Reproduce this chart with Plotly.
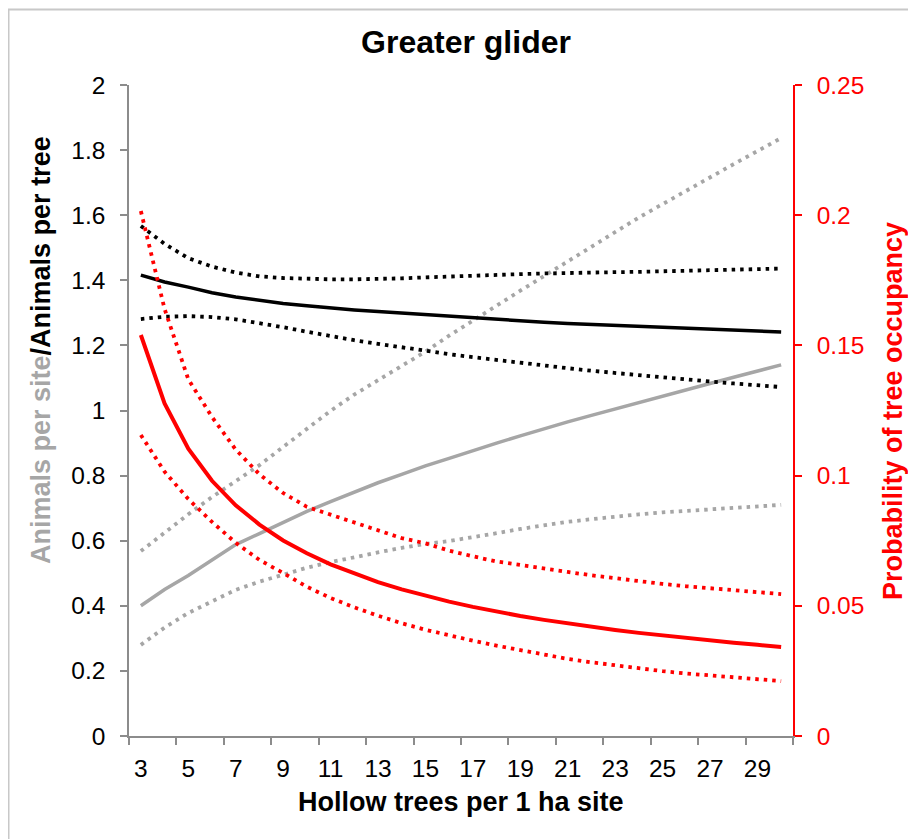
import plotly.graph_objects as go

hollow_trees = [3, 4, 5, 6, 7, 8, 9, 10, 11, 12, 13, 14, 15, 16,
                17, 18, 19, 20, 21, 22, 23, 24, 25, 26, 27, 28, 29, 30]

site_mean = [0.400, 0.450, 0.493, 0.540, 0.588, 0.622, 0.656, 0.690, 0.720, 0.750,
             0.778, 0.804, 0.830, 0.853, 0.877, 0.900, 0.922, 0.944, 0.965, 0.985,
             1.005, 1.025, 1.045, 1.064, 1.083, 1.102, 1.121, 1.140]
site_upper = [0.568, 0.625, 0.681, 0.734, 0.782, 0.832, 0.888, 0.945, 0.999, 1.049,
              1.094, 1.138, 1.181, 1.230, 1.277, 1.323, 1.368, 1.413, 1.458, 1.504,
              1.549, 1.593, 1.634, 1.676, 1.717, 1.757, 1.797, 1.837]
site_lower = [0.280, 0.333, 0.378, 0.415, 0.449, 0.474, 0.497, 0.517, 0.534, 0.550,
              0.564, 0.578, 0.590, 0.599, 0.610, 0.623, 0.636, 0.648, 0.658, 0.666,
              0.674, 0.681, 0.687, 0.692, 0.697, 0.702, 0.706, 0.710]

tree_mean = [1.416, 1.395, 1.379, 1.362, 1.349, 1.338, 1.329, 1.322, 1.315, 1.309,
             1.304, 1.299, 1.294, 1.289, 1.284, 1.280, 1.276, 1.271, 1.267, 1.264,
             1.261, 1.259, 1.256, 1.253, 1.250, 1.247, 1.244, 1.241]
tree_upper = [1.567, 1.512, 1.468, 1.442, 1.424, 1.412, 1.407, 1.404, 1.403, 1.403,
              1.404, 1.406, 1.409, 1.412, 1.414, 1.416, 1.419, 1.421, 1.423, 1.424,
              1.425, 1.426, 1.428, 1.430, 1.432, 1.433, 1.435, 1.436]
tree_lower = [1.281, 1.288, 1.290, 1.287, 1.280, 1.269, 1.256, 1.242, 1.228, 1.216,
              1.205, 1.194, 1.183, 1.173, 1.164, 1.155, 1.146, 1.138, 1.130, 1.122,
              1.115, 1.108, 1.101, 1.095, 1.089, 1.083, 1.077, 1.072]

occ_mean = [0.1540, 0.1277, 0.1103, 0.0980, 0.0886, 0.0812, 0.0751, 0.0702, 0.0659, 0.0623,
            0.0591, 0.0563, 0.0538, 0.0516, 0.0496, 0.0478, 0.0461, 0.0446, 0.0432, 0.0419,
            0.0407, 0.0396, 0.0386, 0.0376, 0.0367, 0.0358, 0.0350, 0.0342]
occ_upper = [0.2016, 0.1640, 0.1370, 0.1225, 0.1100, 0.1005, 0.0933, 0.0880, 0.0850, 0.0820,
             0.0790, 0.0760, 0.0740, 0.0712, 0.0690, 0.0670, 0.0657, 0.0645, 0.0630, 0.0617,
             0.0605, 0.0594, 0.0584, 0.0575, 0.0567, 0.0559, 0.0552, 0.0545]
occ_lower = [0.1156, 0.1015, 0.0910, 0.0822, 0.0742, 0.0676, 0.0626, 0.0573, 0.0530, 0.0494,
             0.0462, 0.0433, 0.0408, 0.0386, 0.0366, 0.0347, 0.0329, 0.0311, 0.0296, 0.0283,
             0.0271, 0.0259, 0.0249, 0.0240, 0.0232, 0.0224, 0.0217, 0.0211]

x_tick_labels = ["3", "5", "7", "9", "11", "13", "15", "17", "19", "21", "23", "25", "27", "29"]

GRAY = "#a6a6a6"
BLACK = "#000000"
RED = "#ff0000"
AXIS_GRAY = "#8c8c8c"
FONT = "Liberation Sans, Arial, sans-serif"
DOT = "3.5px,5px"
TICK_SIZE = 24.5

fig = go.Figure()

def add(y, color, dashed, axis, width):
    fig.add_trace(go.Scatter(
        x=hollow_trees, y=y, mode="lines", yaxis=axis,
        line=dict(color=color, width=width, dash=DOT if dashed else "solid"),
        showlegend=False, hoverinfo="skip"))

add(site_upper, GRAY, True, "y", 3.8)
add(site_lower, GRAY, True, "y", 3.8)
add(site_mean, GRAY, False, "y", 3.5)
add(tree_upper, BLACK, True, "y", 3.8)
add(tree_lower, BLACK, True, "y", 3.8)
add(tree_mean, BLACK, False, "y", 3.5)
add(occ_upper, RED, True, "y2", 3.8)
add(occ_lower, RED, True, "y2", 3.8)
add(occ_mean, RED, False, "y2", 4)

tick_positions = [int(t) for t in x_tick_labels]
boundaries = [c - 0.5 for c in hollow_trees[::2]] + [hollow_trees[-1] + 0.5]

# page offset introduced by the default body margin of the html page
OFF = 8
W, H = 916 - OFF, 839 - OFF
L, T = 129 - OFF, 85 - OFF
R, B = 123, 103
pw, ph = W - L - R, H - T - B

def px_x(p):
    return (p - OFF - L) / pw

def px_y(p):
    return (H - B - (p - OFF)) / ph

fig.update_layout(
    width=W, height=H,
    margin=dict(l=L, r=R, t=T, b=B),
    paper_bgcolor="white", plot_bgcolor="white",
    font=dict(family=FONT, color="black", size=TICK_SIZE),
    title=dict(text="<b>Greater glider</b>", x=(466 - OFF) / W, xanchor="center",
               y=1 - (42 - OFF) / H, yanchor="middle",
               font=dict(family=FONT, size=32, color="black")),
    xaxis=dict(
        range=[hollow_trees[0] - 0.5, hollow_trees[-1] + 0.5],
        tickmode="array", tickvals=tick_positions, ticktext=x_tick_labels,
        ticks="", showgrid=False, zeroline=False,
        showline=True, linecolor=AXIS_GRAY, linewidth=1.5,
        tickfont=dict(size=TICK_SIZE, color="black"),
        ticklabelstandoff=10,
        minor=dict(tickmode="array", tickvals=boundaries, ticks="outside",
                   ticklen=7, tickwidth=1.5, tickcolor=AXIS_GRAY, showgrid=False),
    ),
    yaxis=dict(
        range=[0, 2], tickmode="linear", tick0=0, dtick=0.2,
        ticks="outside", ticklen=7, tickwidth=1.5, tickcolor=AXIS_GRAY,
        showline=True, linecolor=AXIS_GRAY, linewidth=1.5,
        showgrid=False, zeroline=False,
        tickfont=dict(size=TICK_SIZE, color="black"),
        ticklabelstandoff=10,
    ),
    yaxis2=dict(
        range=[0, 0.25], tickmode="linear", tick0=0, dtick=0.05,
        overlaying="y", side="right",
        ticks="outside", ticklen=7, tickwidth=1.5, tickcolor=RED,
        showline=True, linecolor=RED, linewidth=1.5,
        showgrid=False, zeroline=False,
        tickfont=dict(size=TICK_SIZE, color=RED),
        ticklabelstandoff=10,
    ),
)

fig.add_annotation(
    text="<b><span style='color:%s'>Animals per site</span>/Animals per tree</b>" % GRAY,
    xref="paper", yref="paper", x=px_x(41), y=px_y(350),
    xanchor="center", yanchor="middle", textangle=-90, showarrow=False,
    font=dict(family=FONT, size=27, color="black"))
fig.add_annotation(
    text="<b>Probability of tree occupancy</b>",
    xref="paper", yref="paper", x=px_x(893), y=px_y(411),
    xanchor="center", yanchor="middle", textangle=-90, showarrow=False,
    font=dict(family=FONT, size=27, color=RED))
fig.add_annotation(
    text="<b>Hollow trees per 1 ha site</b>",
    xref="paper", yref="paper", x=px_x(461), y=px_y(802),
    xanchor="center", yanchor="middle", showarrow=False,
    font=dict(family=FONT, size=27, color="black"))

fig.add_shape(type="rect", xref="paper", yref="paper",
              x0=px_x(8.5), y0=px_y(880), x1=px_x(960), y1=px_y(9.5),
              line=dict(color="#c8c8c8", width=2), fillcolor="rgba(0,0,0,0)",
              layer="below")

fig.write_html("out.html")
